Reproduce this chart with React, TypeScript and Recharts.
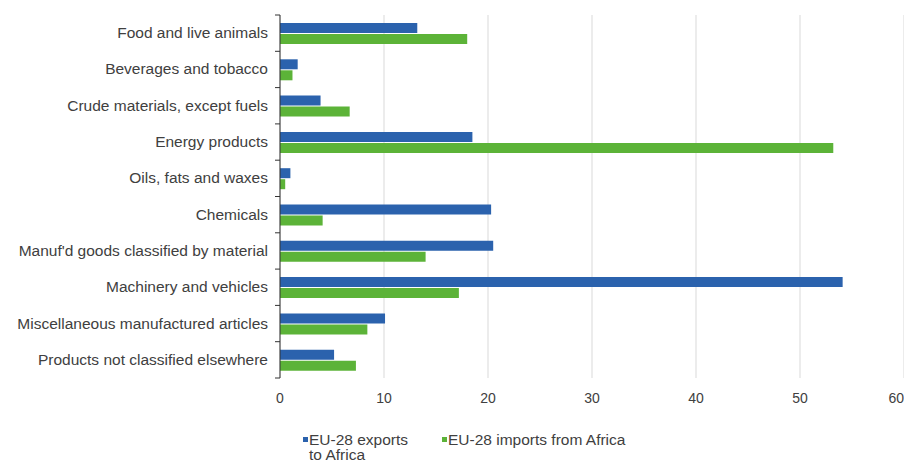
import React from "react";
import {
  BarChart,
  Bar,
  XAxis,
  YAxis,
  CartesianGrid,
} from "recharts";

const categories = [
  "Food and live animals",
  "Beverages and tobacco",
  "Crude materials, except fuels",
  "Energy products",
  "Oils, fats and waxes",
  "Chemicals",
  "Manuf'd goods classified by material",
  "Machinery and vehicles",
  "Miscellaneous manufactured articles",
  "Products not classified elsewhere",
];
const exportsToAfrica = [13.2, 1.7, 3.9, 18.5, 1.0, 20.3, 20.5, 54.1, 10.1, 5.2];
const importsFromAfrica = [18.0, 1.2, 6.7, 53.2, 0.5, 4.1, 14.0, 17.2, 8.4, 7.3];
const xTicks = [0, 10, 20, 30, 40, 50, 60];

const BLUE = "#2b62ad";
const GREEN = "#5cb338";
const FONT = "'Liberation Sans', Arial, sans-serif";
const FS = 15.5;

const data = categories.map((name, i) => ({
  name,
  exports: exportsToAfrica[i],
  imports: importsFromAfrica[i],
}));

const TOP = 15;
const BOTTOM = 378;
const AXIS_X = 280;
const band = (BOTTOM - TOP) / categories.length;

function CategoryTick(props: any) {
  const { y, payload, index } = props;
  return (
    <g>
      <text
        x={AXIS_X - 12}
        y={y}
        dy={5}
        textAnchor="end"
        fontSize={FS}
        fontFamily={FONT}
        fill="#404040"
      >
        {payload.value}
      </text>
      <line x1={AXIS_X - 5} x2={AXIS_X} y1={y - band / 2} y2={y - band / 2} stroke="#333" />
      {index === categories.length - 1 && (
        <line x1={AXIS_X - 5} x2={AXIS_X} y1={y + band / 2} y2={y + band / 2} stroke="#333" />
      )}
    </g>
  );
}

// last label sits flush against the right edge, like the source image
function ValueTick(props: any) {
  const { x, payload, index } = props;
  const last = index === xTicks.length - 1;
  return (
    <text
      x={x}
      y={BOTTOM + 25}
      textAnchor={last ? "end" : "middle"}
      fontSize={14}
      fontFamily={FONT}
      fill="#404040"
    >
      {payload.value}
    </text>
  );
}

export default function App() {
  return (
    <div style={{ position: "relative", width: 912, height: 468, margin: -8, background: "#fff", overflow: "hidden", fontFamily: FONT }}>
      <div style={{ position: "absolute", left: 2, top: -12, fontSize: FS, color: "#404040" }}>
        (billion EUR)
      </div>
      <BarChart
        width={912}
        height={468}
        data={data}
        layout="vertical"
        margin={{ top: TOP, right: 8, bottom: 60, left: 0 }}
        barSize={10}
        barGap={1}
      >
        <CartesianGrid horizontal={false} stroke="#d9d9d9" />
        <XAxis
          type="number"
          domain={[0, 60]}
          ticks={xTicks}
          axisLine={false}
          tickLine={false}
          height={30}
          interval={0}
          tick={<ValueTick />}
        />
        <YAxis
          type="category"
          dataKey="name"
          width={280}
          axisLine={{ stroke: "#333" }}
          tickLine={false}
          interval={0}
          tick={<CategoryTick />}
        />
        <Bar dataKey="exports" fill={BLUE} isAnimationActive={false} />
        <Bar dataKey="imports" fill={GREEN} isAnimationActive={false} />
      </BarChart>
      <div style={{ position: "absolute", left: 303, top: 432, fontSize: 15.5, color: "#404040", lineHeight: "15px", display: "flex" }}>
        <div style={{ display: "flex", alignItems: "flex-start", width: 139 }}>
          <span style={{ width: 5, height: 5, background: BLUE, marginTop: 5, marginRight: 1, flex: "none" }} />
          <span>EU-28 exports<br />to Africa</span>
        </div>
        <div style={{ display: "flex", alignItems: "flex-start" }}>
          <span style={{ width: 5, height: 5, background: GREEN, marginTop: 5, marginRight: 1, flex: "none" }} />
          <span>EU-28 imports from Africa</span>
        </div>
      </div>
    </div>
  );
}
